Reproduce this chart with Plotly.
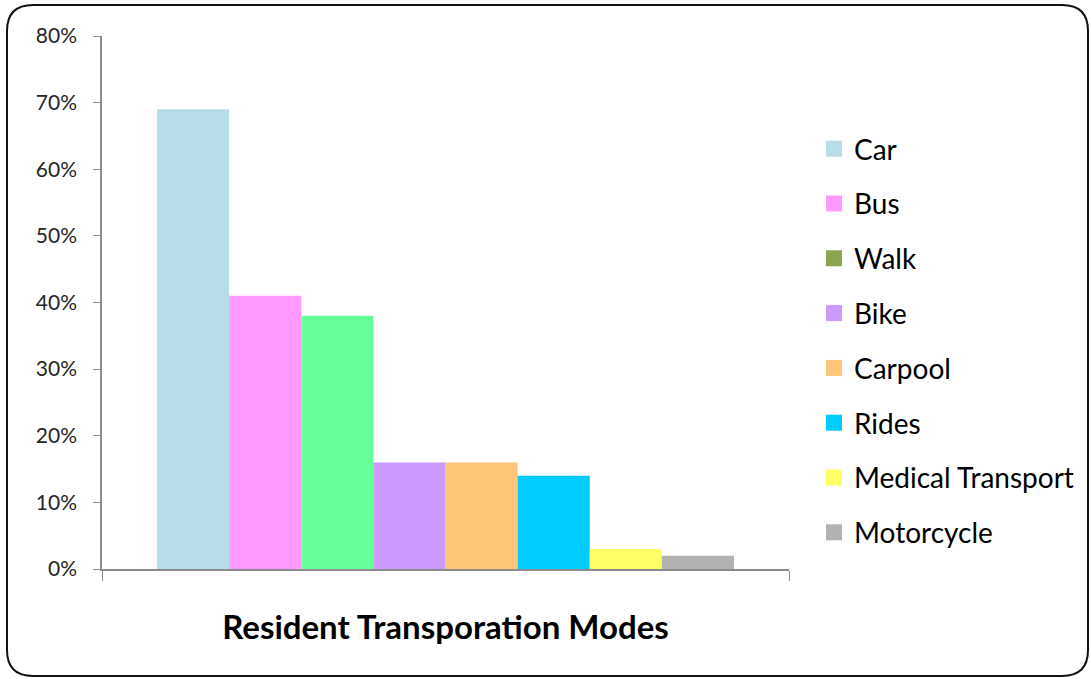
import plotly.graph_objects as go

modes = ["Car", "Bus", "Walk", "Bike", "Carpool", "Rides", "Medical Transport", "Motorcycle"]
shares = [0.69, 0.41, 0.38, 0.16, 0.16, 0.14, 0.03, 0.02]
bar_colors = ["#B7DDE8", "#FF99FF", "#66FF99", "#CC99FF", "#FFC67A", "#00CCFF", "#FFFF66", "#B2B2B2"]
legend_colors = ["#B7DDE8", "#FF99FF", "#8BA650", "#CC99FF", "#FFC67A", "#00CCFF", "#FFFF66", "#B2B2B2"]
y_ticks = [0, 0.1, 0.2, 0.3, 0.4, 0.5, 0.6, 0.7, 0.8]

W, H = 1091, 679
ml, mr, mt, mb = 102, W - 789, 36, H - 569
pw, ph = W - ml - mr, H - mt - mb

FONT = "Lato, 'Open Sans', sans-serif"

fig = go.Figure()
for name, v, c in zip(modes, shares, bar_colors):
    fig.add_trace(go.Bar(x=[""], y=[v], name=name, marker=dict(color=c, line=dict(width=0)),
                         showlegend=False))
for i, (name, c) in enumerate(zip(modes, legend_colors)):
    fig.add_trace(go.Scatter(x=[None], y=[None], mode="markers", name=name,
                             legendgroup=f"g{i}",
                             marker=dict(symbol="square", size=16, color=c)))

def px2paper(x, y):
    return (x - ml) / pw, (H - mb - y) / ph

def rounded_rect(x0, y0, x1, y1, r):
    def P(x, y):
        a, b = px2paper(x, y)
        return f"{a:.5f},{b:.5f}"
    return (f"M {P(x0 + r, y0)} L {P(x1 - r, y0)} Q {P(x1, y0)} {P(x1, y0 + r)} "
            f"L {P(x1, y1 - r)} Q {P(x1, y1)} {P(x1 - r, y1)} "
            f"L {P(x0 + r, y1)} Q {P(x0, y1)} {P(x0, y1 - r)} "
            f"L {P(x0, y0 + r)} Q {P(x0, y0)} {P(x0 + r, y0)} Z")

fig.add_shape(type="path", xref="paper", yref="paper",
              path=rounded_rect(7, 5, 1088, 676, 26),
              line=dict(color="#111111", width=2), layer="below")

lx, ly = px2paper(814, 124)

fig.update_layout(
    width=W, height=H,
    margin=dict(l=ml, r=mr, t=mt, b=mb, autoexpand=False),
    paper_bgcolor="white", plot_bgcolor="white",
    barmode="group", bargap=0.16, bargroupgap=0,
    font=dict(family=FONT, color="#000000"),
    showlegend=True,
    legend=dict(x=lx, y=ly, xanchor="left", yanchor="top",
                font=dict(size=28, family=FONT, color="#000000"),
                tracegroupgap=15.4, itemsizing="trace", bgcolor="rgba(0,0,0,0)"),
    xaxis=dict(type="category", showline=True, linecolor="#8C8C8C", linewidth=1.5,
               ticks="outside", tickson="boundaries", ticklen=10, tickcolor="#8C8C8C",
               showticklabels=False, showgrid=False, zeroline=False,
               title=dict(text="<b>Resident Transporation Modes</b>",
                          font=dict(size=33, family=FONT, color="#000000"), standoff=46)),
    yaxis=dict(range=[0, 0.8], tickvals=y_ticks, tickformat=".0%", showline=True,
               linecolor="#8C8C8C", linewidth=1.5, ticks="outside", ticklen=7,
               tickcolor="#8C8C8C", showgrid=False, zeroline=False,
               tickfont=dict(size=21, family=FONT, color="#262626"),
               ticklabelstandoff=12),
)

fig.write_html("out.html", config={"displayModeBar": False},
               post_script="document.body.style.margin='0';")
